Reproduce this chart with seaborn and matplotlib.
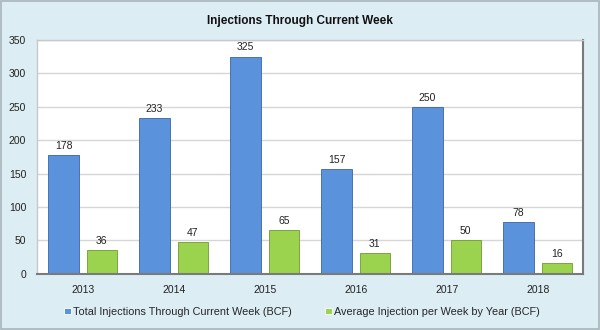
import matplotlib
matplotlib.use("Agg")
import matplotlib.pyplot as plt
import seaborn as sns
import pandas as pd
import numpy as np

years = ["2013", "2014", "2015", "2016", "2017", "2018"]
total_injections = [178, 233, 325, 157, 250, 78]
avg_injection = [36, 47, 65, 31, 50, 16]
series_names = ["Total Injections Through Current Week (BCF)",
                "Average Injection per Week by Year (BCF)"]
title = "Injections Through Current Week"

df = pd.DataFrame({
    "year": years * 2,
    "value": total_injections + avg_injection,
    "series": [series_names[0]] * len(years) + [series_names[1]] * len(years),
})

sns.set_theme(style="white")
plt.rcParams["font.family"] = ["Liberation Sans", "DejaVu Sans"]

bg = "#dcedf4"
fig = plt.figure(figsize=(6, 3.3), dpi=100, facecolor=bg)
ax = fig.add_axes([0.062, 0.170, 0.910, 0.709])
ax.set_facecolor("white")

palette = {series_names[0]: "#5a92dc", series_names[1]: "#9bd24e"}
sns.barplot(data=df, x="year", y="value", hue="series", palette=palette,
            width=0.84, gap=0.2, ax=ax, linewidth=0.6,
            legend=True, saturation=1)

for container, ec in zip(ax.containers, ["#3a64a8", "#6f9a30"]):
    for bar in container:
        bar.set_edgecolor(ec)
    ax.bar_label(container, padding=3, fontsize=7.5, color="#222222")

ax.set_ylim(0, 350)
ax.set_yticks(range(0, 351, 50))
ax.set_xlim(-0.5, 5.5)
ax.yaxis.grid(True, color="#d6d6d6", linewidth=1)
ax.set_axisbelow(True)
ax.tick_params(axis="y", labelsize=7.5, length=0, pad=8, colors="#222222")
ax.tick_params(axis="x", labelsize=7.5, length=0, pad=8, colors="#222222")
ax.set_xlabel("")
ax.set_ylabel("")
for side in ["top", "left"]:
    ax.spines[side].set_color("#c8c8c8")
    ax.spines[side].set_linewidth(1)
for side in ["right", "bottom"]:
    ax.spines[side].set_color("#7a7a7a")
    ax.spines[side].set_linewidth(1.5)

fig.suptitle(title, x=0.5, y=0.955, fontsize=8.5, fontweight="bold", color="#111111")

leg = ax.legend(loc="center", bbox_to_anchor=(0.503, 0.055), bbox_transform=fig.transFigure,
                ncol=2, frameon=False, fontsize=7.8, handlelength=0.6, handleheight=0.6,
                handletextpad=0.2, columnspacing=3.1)

fig.patches.append(plt.Rectangle((0.002, 0.003), 0.996, 0.994, transform=fig.transFigure,
                                 fill=False, edgecolor="#a8b4ba", linewidth=1.2))

fig.savefig("out.png", dpi=100, facecolor=bg)
